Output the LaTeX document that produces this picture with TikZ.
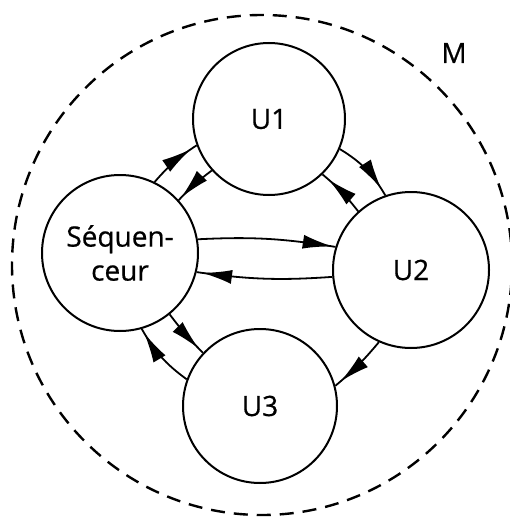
\documentclass[tikz,border=0pt]{standalone}
\usepackage{fontspec}
\setmainfont{Open Sans}
\newfontfamily\lblfont{Open Sans}[FakeBold=0.6]
\usetikzlibrary{arrows.meta,decorations.markings}
\begin{document}
\begin{tikzpicture}[x=0.5pt,y=-0.5pt,
  unit/.style={circle,draw,line width=1pt,inner sep=0pt,align=center,
    font=\lblfont\fontsize{14}{17}\selectfont},
  flow/.style={line width=0.9pt,postaction={decorate},
    decoration={markings,mark=at position #1 with {\arrow{Latex[length=15pt,width=7pt]}}}},
  flow/.default=0.88,
  bound/.style={line width=1.2pt,dash pattern=on 7pt off 4.5pt}]
\useasboundingbox (0,0) rectangle (509,519);
\node[unit,minimum size=78pt] (seq) at (120,253) {Séquen-\\ceur};
\node[unit,minimum size=76pt] (u1) at (269,119) {U1};
\node[unit,minimum size=78pt] (u2) at (411,270) {U2};
\node[unit,minimum size=77pt] (u3) at (260,406) {U3};
\node[font=\lblfont\fontsize{14}{17}\selectfont] (m) at (454,53) {M};
\coordinate (mc) at (262,265);
\draw[bound] (mc) circle[radius=125pt];
% Sequenceur <-> U1
\draw[flow=0.88] (seq.64.8) to[bend left=8] (u1.-160.6);
\draw[flow=0.92] (u1.-138) to[bend right=5] (seq.42.4);
% U1 <-> U2
\draw[flow=0.88] (u1.-23.6) to[bend left=14] (u2.109.6);
\draw[flow=0.85] (u2.132.9) to[bend right=6] (u1.-46);
% Sequenceur <-> U2
\draw[flow=0.98] (seq.10.9) to[bend left=6] (u2.163.6);
\draw[flow=0.96] (u2.185) to[bend left=6] (seq.-14.6);
% Sequenceur <-> U3
\draw[flow=0.88] (seq.-51.8) to[bend right=4] (u3.137.6);
\draw[flow=0.93] (u3.160.6) to[bend left=12] (seq.-74);
% U2 -> U3
\draw[flow=0.89] (u2.-114.3) to[bend left=5] (u3.15.3);
\end{tikzpicture}
\end{document}
